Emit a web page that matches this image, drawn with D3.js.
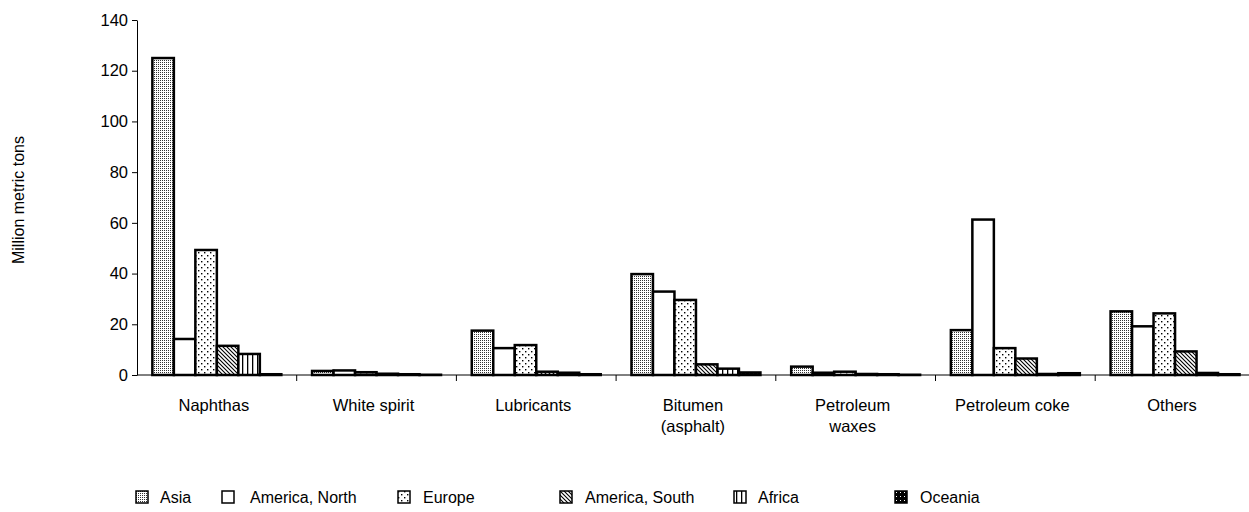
<!DOCTYPE html>
<html>
<head>
<meta charset="utf-8">
<script src="https://cdn.jsdelivr.net/npm/d3@7/dist/d3.min.js"></script>
<style>
  html, body { margin: 0; padding: 0; background: #fff; }
  svg text { font-family: "Liberation Sans", Arial, sans-serif; fill: #000; }
</style>
</head>
<body>
<svg id="chart" width="1249" height="512"></svg>
<script>
const categories = ["Naphthas", "White spirit", "Lubricants", "Bitumen\n(asphalt)", "Petroleum\nwaxes", "Petroleum coke", "Others"];
const series = ["Asia", "America, North", "Europe", "America, South", "Africa", "Oceania"];
const asia         = [125.0, 1.6, 17.5, 39.8, 3.3, 17.7, 25.1];
const americaNorth = [14.2, 1.8, 10.6, 32.9, 0.9, 61.3, 19.2];
const europe       = [49.3, 1.1, 11.8, 29.6, 1.3, 10.6, 24.3];
const americaSouth = [11.5, 0.5, 1.3, 4.2, 0.4, 6.5, 9.3];
const africa       = [8.3, 0.3, 0.9, 2.5, 0.3, 0.4, 0.8];
const oceania      = [0.3, 0.1, 0.3, 1.0, 0.1, 0.7, 0.3];
const seriesValues = [asia, americaNorth, europe, americaSouth, africa, oceania];
const yTicks = [0, 20, 40, 60, 80, 100, 120, 140];
const yLabel = "Million metric tons";

const svg = d3.select("#chart");
const defs = svg.append("defs");

function pat(id, w, h) {
  return defs.append("pattern").attr("id", id).attr("patternUnits", "userSpaceOnUse")
    .attr("width", w).attr("height", h);
}
// Asia: fine dense dots
let p = pat("p0", 2, 2);
p.append("rect").attr("width", 2).attr("height", 2).attr("fill", "#fff");
p.append("rect").attr("width", 1).attr("height", 1).attr("fill", "#333");
// Europe: sparse dots
p = pat("p2", 6, 6);
p.append("rect").attr("width", 6).attr("height", 6).attr("fill", "#fff");
p.append("rect").attr("x", 0).attr("y", 0).attr("width", 1.4).attr("height", 1.4).attr("fill", "#000");
p.append("rect").attr("x", 3).attr("y", 3).attr("width", 1.4).attr("height", 1.4).attr("fill", "#000");
// South America: diagonal stripes
p = pat("p3", 4, 4);
p.append("rect").attr("width", 4).attr("height", 4).attr("fill", "#fff");
p.append("path").attr("d", "M-1,-1 L5,5 M-1,3 L1,5 M3,-1 L5,1").attr("stroke", "#000").attr("stroke-width", 1.1);
// Africa: vertical stripes
p = pat("p4", 5, 5);
p.append("rect").attr("width", 5).attr("height", 5).attr("fill", "#fff");
p.append("rect").attr("x", 2).attr("width", 1.3).attr("height", 5).attr("fill", "#000");
// Oceania: black with white dots
p = pat("p5", 4, 4);
p.append("rect").attr("width", 4).attr("height", 4).attr("fill", "#000");
p.append("rect").attr("x", 1).attr("y", 1).attr("width", 1).attr("height", 1).attr("fill", "#fff");

const fills = ["url(#p0)", "#fff", "url(#p2)", "url(#p3)", "url(#p4)", "url(#p5)"];

const x0Left = 137, step = 159.7;
const x0 = d3.scaleBand().domain(categories).range([x0Left, x0Left + step * categories.length]).padding(0);
const x1 = d3.scaleBand().domain(series).range([0, x0.bandwidth()]).paddingInner(0).paddingOuter(0.715);
const y = d3.scaleLinear().domain([0, 140]).range([375, 20]);

const data = [];
categories.forEach((c, i) => series.forEach((s, j) => data.push({ c, s, j, v: seriesValues[j][i] })));
svg.append("g").selectAll("rect").data(data).join("rect")
  .attr("x", d => x0(d.c) + x1(d.s))
  .attr("y", d => y(d.v))
  .attr("width", x1.bandwidth())
  .attr("height", d => y(0) - y(d.v))
  .attr("fill", d => fills[d.j])
  .attr("stroke", "#000")
  .attr("stroke-width", 2.5);

// Y axis
const yAxis = d3.axisLeft(y).tickValues(yTicks).tickSize(5).tickSizeOuter(0).tickFormat(d3.format("d"));
const gy = svg.append("g").attr("transform", `translate(${x0Left},0)`).call(yAxis);
gy.selectAll("text").attr("font-size", 16.5).attr("x", -9);
gy.select(".domain").attr("stroke", "#000");
gy.selectAll(".tick line").attr("stroke", "#000");

// X axis baseline and boundary ticks
svg.append("line").attr("x1", x0Left).attr("x2", 1249).attr("y1", y(0)).attr("y2", y(0)).attr("stroke", "#000");
const bounds = categories.map(c => x0(c) + x0.bandwidth());
svg.append("g").selectAll("line").data(bounds).join("line")
  .attr("x1", d => d).attr("x2", d => d).attr("y1", y(0)).attr("y2", y(0) + 6).attr("stroke", "#000");

// Category labels
const lab = svg.append("g").selectAll("text").data(categories).join("text")
  .attr("text-anchor", "middle").attr("font-size", 16.5)
  .attr("x", d => x0(d) + x0.bandwidth() / 2 - 3)
  .attr("y", 411);
lab.each(function(d) {
  const lines = d.split("\n");
  const t = d3.select(this);
  lines.forEach((l, k) => t.append("tspan").attr("x", x0(d) + x0.bandwidth() / 2 - 3).attr("dy", k === 0 ? 0 : 21).text(l));
});

// Y label
svg.append("text").attr("font-size", 16).attr("text-anchor", "middle")
  .attr("transform", "translate(24,200) rotate(-90)").text(yLabel);

// Legend
const legX = [136, 222, 398, 560, 734, 895];
const lg = svg.append("g").selectAll("g").data(series).join("g")
  .attr("transform", (d, i) => `translate(${legX[i]},491)`);
lg.append("rect").attr("width", 12).attr("height", 12)
  .attr("fill", (d, i) => fills[i]).attr("stroke", "#000").attr("stroke-width", 1.5);
lg.append("text").attr("x", (d, i) => i === 0 || i === 4 ? 24 : (i === 1 ? 28 : 25)).attr("y", 12).attr("font-size", 16).text(d => d);
</script>
</body>
</html>
